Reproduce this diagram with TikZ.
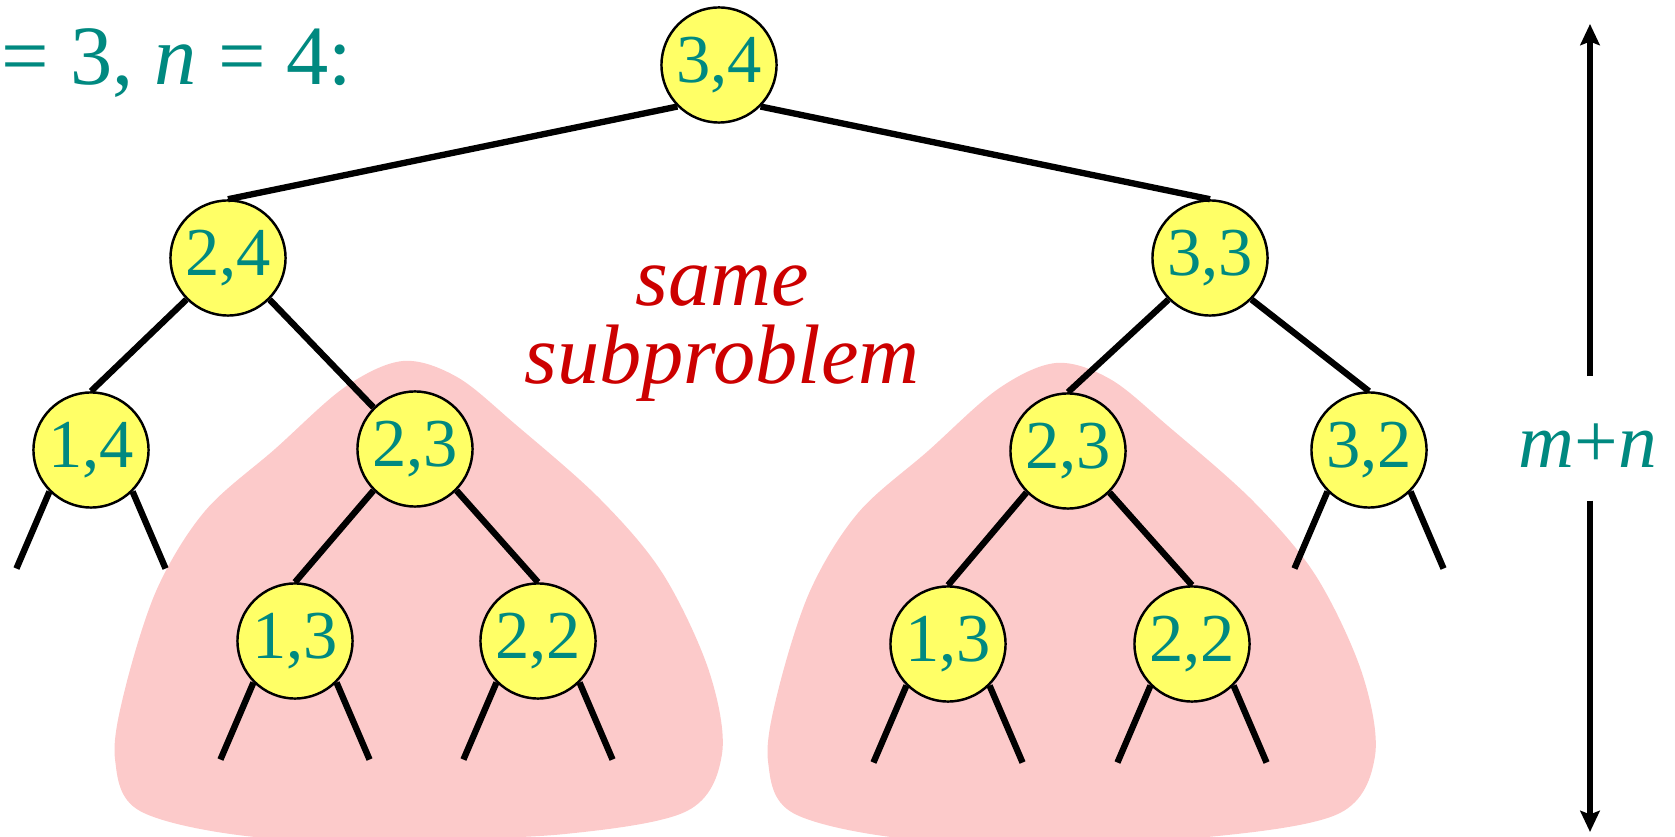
\documentclass[tikz,border=0pt]{standalone}
\usepackage{fontspec}
\setmainfont{Liberation Serif}
\usetikzlibrary{arrows.meta}
\usetikzlibrary{backgrounds}
\definecolor{numcol}{RGB}{0,137,128}
\definecolor{samecol}{RGB}{204,0,0}
\definecolor{blobcol}{RGB}{252,202,202}
\definecolor{callcol}{RGB}{255,255,102}
\newcommand{\txtsize}{\fontsize{24}{22.2}\selectfont}

\begin{document}
\begin{tikzpicture}[x=0.01cm,y=-0.01cm,
  call/.style={draw,circle,fill=callcol,line width=0.7pt,minimum size=1.15cm,inner sep=0pt,text=numcol,font=\fontsize{19.5}{20}\selectfont},
  link/.style={line width=1.8pt},
  vec/.style={line width=1.7pt,-{Stealth[length=6pt,width=5.5pt,inset=1pt]}}]
  \useasboundingbox (0,0) rectangle (1675,837);
  \node[anchor=base west,inner sep=0pt,text=numcol,font=\txtsize] (title) at (1,85) {= 3, \textit{n} = 4:};
  \node[call] (c34) at (719,65) {3,4};
  \node[call] (c24) at (228,258) {2,4};
  \node[call] (c33) at (1210,258) {3,3};
  \node[call] (c14) at (91,450) {1,4};
  \node[call] (c23) at (415,449) {2,3};
  \node[call] (d23) at (1068,451) {2,3};
  \node[call] (c32) at (1369,450) {3,2};
  \node[call] (c13) at (295,641) {1,3};
  \node[call] (c22) at (538,641) {2,2};
  \node[call] (d13) at (948,644) {1,3};
  \node[call] (d22) at (1192,644) {2,2};
  % shared subtrees
  \begin{scope}[on background layer]
    \foreach \t in {c23,d23}
      \fill[blobcol,shift={(\t)}] plot[smooth cycle,tension=0.55] coordinates {
        (-12,-88) (-70,-62) (-140,0) (-210,62) (-258,140) (-290,240) (-300,310)
        (-275,362) (-160,388) (0,390) (150,385) (272,362) (307,305) (294,222)
        (248,125) (185,50) (100,-25) (42,-72)};
  \end{scope}
  \draw[link] (c34.south west) -- (c24.north);
  \draw[link] (c34.south east) -- (c33.north);
  \draw[link] (c24.south west) -- (c14.north);
  \draw[link] (c24.south east) -- (c23.north west);
  \draw[link] (c33.south west) -- (d23.north);
  \draw[link] (c33.south east) -- (c32.north);
  \draw[link] (c23.south west) -- (c13.north);
  \draw[link] (c23.south east) -- (c22.north);
  \draw[link] (d23.south west) -- (d13.north);
  \draw[link] (d23.south east) -- (d22.north);
  \foreach \v in {c14,c13,c22,d13,d22,c32} {
    \draw[link] (\v.south west) -- ++(-33,77) coordinate (\v-l);
    \draw[link] (\v.south east) -- ++(33,77) coordinate (\v-r);
  }
  \node[align=center,text=samecol,font=\txtsize\itshape] (same) at (722,334) {same\\subproblem};
  % height of the tree
  \node[text=numcol,font=\fontsize{22}{22}\selectfont,inner sep=0pt,text height=0.91cm,text depth=0.32cm,anchor=base] (mn) at (1588,468) {\textit{m}+\textit{n}};
  \coordinate (top) at (1590,24);
  \coordinate (bot) at (1590,832);
  \draw[vec] (mn.north -| top) -- (top);
  \draw[vec] (mn.south -| bot) -- (bot);
\end{tikzpicture}
\end{document}
